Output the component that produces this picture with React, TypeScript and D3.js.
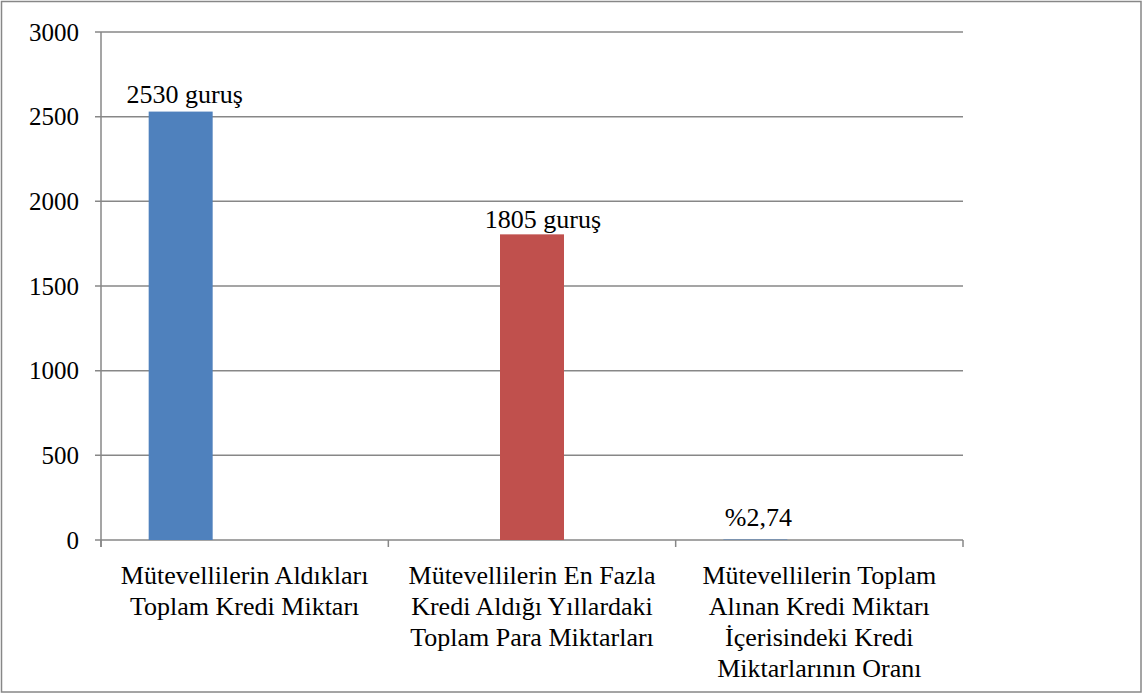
import React from "react";
import * as d3 from "d3";

const categories: string[][] = [
  ["Mütevellilerin Aldıkları", "Toplam Kredi Miktarı"],
  ["Mütevellilerin En Fazla", "Kredi Aldığı Yıllardaki", "Toplam Para Miktarları"],
  ["Mütevellilerin Toplam", "Alınan Kredi Miktarı", "İçerisindeki Kredi", "Miktarlarının Oranı"],
];
const categoryKeys = ["c1", "c2", "c3"];
const seriesKeys = ["s1", "s2", "s3"];
const series1Values = [2530, 0, 2.74];
const series2Values = [0, 1805, 0];
const series3Values = [0, 0, 0];
const series1Labels = ["2530 guruş", "", "%2,74"];
const series2Labels = ["", "1805 guruş", ""];
const series3Labels = ["", "", ""];
const yTicks = [0, 500, 1000, 1500, 2000, 2500, 3000];

const seriesColors = ["#4F81BD", "#C0504D", "#9BBB59"];
const FONT = '"Liberation Serif", "Times New Roman", Times, serif';
const AXIS = "#878787";

// label nudges (styling), indexed [series][category]: [dx, dy]
const labelNudge: [number, number][][] = [
  [[4, -9], [0, 0], [3, -14]],
  [[0, 0], [11, -6], [0, 0]],
  [[0, 0], [0, 0], [0, 0]],
];

export default function App() {
  const W = 1143;
  const H = 695;
  const left = 101;
  const right = 963;
  const top = 32;
  const bottom = 540;

  const values = [series1Values, series2Values, series3Values];
  const labels = [series1Labels, series2Labels, series3Labels];

  const y = d3.scaleLinear().domain([0, 3000]).range([bottom, top]);
  const x0 = d3.scaleBand<string>().domain(categoryKeys).range([left, right]).padding(0);
  const x1 = d3
    .scaleBand<string>()
    .domain(seriesKeys)
    .range([0, x0.bandwidth()])
    .paddingInner(0)
    .paddingOuter(0.745);

  const boundaries = [...categoryKeys.map((c) => x0(c) as number), right];
  const textStyle = { fontFamily: FONT } as React.CSSProperties;

  return (
    <svg
      width={W}
      height={H}
      style={{ position: "absolute", left: 0, top: 0, background: "#fff", fontFamily: FONT }}
    >
      <rect x={1.5} y={1.5} width={1139.5} height={690.5} fill="#fff" stroke={AXIS} strokeWidth={1.5} />
      {yTicks.map((t) => (
        <g key={t}>
          <line x1={left - 6} x2={right} y1={y(t)} y2={y(t)} stroke={AXIS} strokeWidth={1.5} />
          <text
            x={79}
            y={y(t)}
            dy="0.35em"
            textAnchor="end"
            style={textStyle}
            fontSize={25}
            fill="#000"
          >
            {t}
          </text>
        </g>
      ))}
      <line x1={left} x2={left} y1={top} y2={bottom + 7} stroke={AXIS} strokeWidth={1.5} />
      {boundaries.map((b, i) => (
        <line key={i} x1={b} x2={b} y1={bottom} y2={bottom + 7} stroke={AXIS} strokeWidth={1.5} />
      ))}
      {seriesKeys.map((s, si) =>
        categoryKeys.map((c, ci) => {
          const v = values[si][ci];
          const bx = (x0(c) as number) + (x1(s) as number);
          return v > 0 ? (
            <rect
              key={s + c}
              x={bx}
              y={y(v)}
              width={x1.bandwidth()}
              height={y(0) - y(v)}
              fill={seriesColors[si]}
            />
          ) : null;
        })
      )}
      {seriesKeys.map((s, si) =>
        categoryKeys.map((c, ci) => {
          const lbl = labels[si][ci];
          if (!lbl) return null;
          const v = values[si][ci];
          const cx = (x0(c) as number) + (x1(s) as number) + x1.bandwidth() / 2;
          const [dx, dy] = labelNudge[si][ci];
          return (
            <text
              key={"l" + s + c}
              x={cx + dx}
              y={y(v) + dy}
              textAnchor="middle"
              style={textStyle}
              fontSize={26}
              fill="#000"
            >
              {lbl}
            </text>
          );
        })
      )}
      {categoryKeys.map((c, ci) => {
        const cx = (x0(c) as number) + x0.bandwidth() / 2;
        return (
          <text key={"c" + c} textAnchor="middle" style={textStyle} fontSize={26} fill="#000">
            {categories[ci].map((line, li) => (
              <tspan key={li} x={cx} y={584 + li * 31}>
                {line}
              </tspan>
            ))}
          </text>
        );
      })}
    </svg>
  );
}
